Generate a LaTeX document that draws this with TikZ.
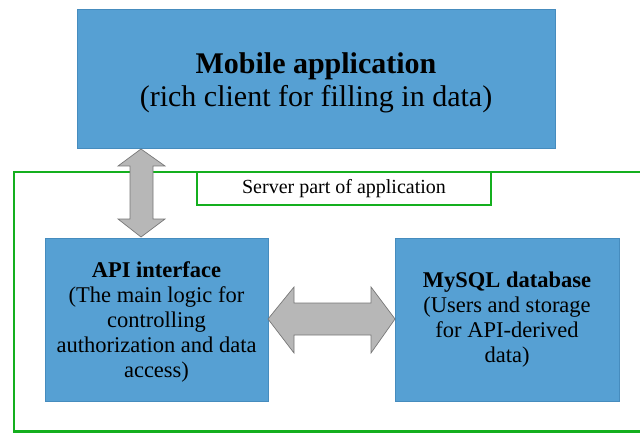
\documentclass[tikz,border=0pt]{standalone}
\usepackage{fontspec}
\setmainfont{Liberation Serif}
\definecolor{boxblue}{RGB}{86,160,211}
\definecolor{boxedge}{RGB}{70,140,190}
\definecolor{arrgray}{RGB}{183,183,183}
\definecolor{arredge}{RGB}{120,120,120}
\definecolor{frgreen}{RGB}{20,175,30}
\begin{document}
\begin{tikzpicture}[x=1pt,y=-1pt,
  bluebox/.style={draw=boxedge, line width=0.6pt, fill=boxblue, align=center, inner sep=0pt},
  bigarrow/.style={draw=arredge, line width=0.7pt, fill=arrgray, line join=miter},
  frame/.style={draw=frgreen, line width=2.4pt}]
\useasboundingbox (0,0) rectangle (640,433);
\begin{scope}
\clip (0,0) rectangle (640,433);
\draw[frame] (14,172) rectangle (680,431.5);
\end{scope}
\node[frame, fill=white, line width=2pt, minimum width=294pt, minimum height=33pt, inner sep=0pt,
  font=\fontsize{20}{22}\selectfont] (srv) at (344,188.5) {Server part of application};
\node[bluebox, minimum width=478pt, minimum height=139pt,
  font=\fontsize{30}{33}\selectfont] (mob) at (316,79)
  {\rule{0pt}{29pt}\textbf{Mobile application}\\(rich client for filling in data)};
\node[bluebox, minimum width=223pt, minimum height=163pt,
  font=\fontsize{22.5}{25}\selectfont] (api) at (156.5,319.5)
  {\rule{0pt}{20pt}\textbf{API interface}\\(The main logic for\\controlling\\authorization and data\\access)};
\node[bluebox, minimum width=224pt, minimum height=163pt,
  font=\fontsize{22.5}{25}\selectfont] (db) at (507,319.5)
  {\textbf{MySQL database}\\(Users and storage\\for API-derived\\data)};
% vertical double arrow between mob and api
\draw[bigarrow] (141,149) -- (165,166) -- (153,166) -- (153,219) -- (165,219) -- (141,237)
  -- (118,219) -- (130,219) -- (130,166) -- (118,166) -- cycle;
% horizontal double arrow between api and db
\draw[bigarrow] (268,319) -- (294,287) -- (294,303) -- (371,303) -- (371,287) -- (395,319)
  -- (371,353) -- (371,335) -- (294,335) -- (294,353) -- cycle;
\end{tikzpicture}
\end{document}
